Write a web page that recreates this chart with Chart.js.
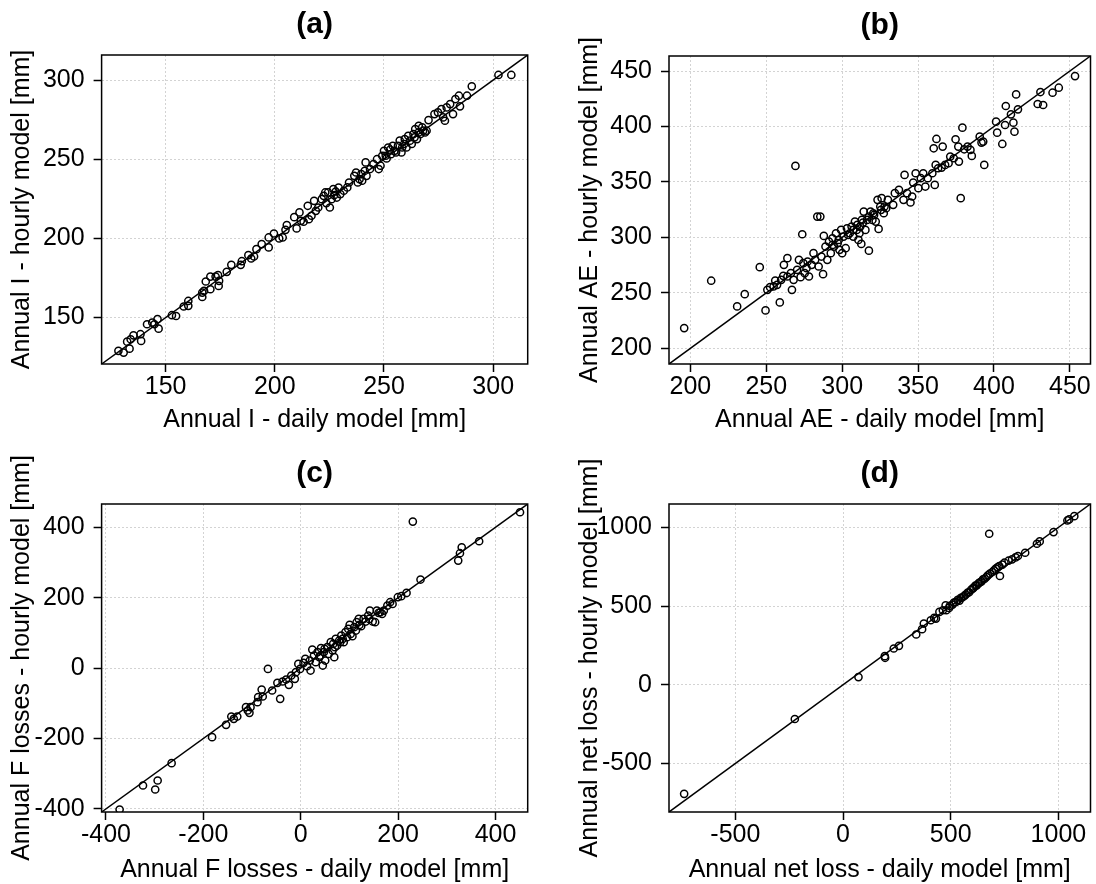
<!DOCTYPE html>
<html>
<head>
<meta charset="utf-8">
<script src="https://cdn.jsdelivr.net/npm/chart.js@4"></script>
<style>
body { margin: 0; background: #fff; }
.p { position: absolute; width: 548px; height: 442px; }
</style>
</head>
<body>
<div class="p" style="left:0;top:0"><canvas id="ca" width="548" height="442"></canvas></div>
<div class="p" style="left:548px;top:0"><canvas id="cb" width="548" height="442"></canvas></div>
<div class="p" style="left:0;top:442px"><canvas id="cc" width="548" height="442"></canvas></div>
<div class="p" style="left:548px;top:442px"><canvas id="cd" width="548" height="442"></canvas></div>
<script>
// (a) annual interception
const aDaily = [128.4,130.8,132.4,133.5,134.0,135.3,138.5,138.8,141.5,143.9,
  144.9,146.3,146.8,152.9,154.8,158.3,160.4,160.4,166.8,166.8,
  167.6,168.4,170.5,170.5,172.9,174.0,174.3,174.5,178.0,180.1,
  184.4,184.9,187.9,189.2,190.5,191.6,194.0,197.2,197.2,199.6,
  202.0,203.6,204.9,205.5,208.9,210.0,211.3,211.9,213.2,215.1,
  215.6,216.8,218.0,218.8,219.9,221.5,222.4,223.6,224.4,225.2,
  226.0,226.8,227.9,228.4,229.2,230.0,233.2,234.0,236.4,237.2,
  238.0,238.8,239.6,241.2,241.6,243.6,245.2,246.8,247.6,248.4,
  249.2,250.0,251.2,251.9,253.2,254.0,254.8,256.4,257.2,258.0,
  259.5,260.3,261.1,262.7,263.5,264.3,265.1,265.9,266.7,267.9,
  268.8,270.4,273.1,274.7,276.3,277.1,277.9,278.7,280.3,281.6,
  282.7,284.3,284.8,288.0,290.2,302.4,308.3,
  250.8,252.8,255.5,258.3,259.2,261.9,264.0,265.9,267.5,269.5,
  223.1,227.2,231.6,240.0,242.0];
const aHourly = [129.0,127.9,134.8,130.4,136.3,138.8,139.5,135.3,145.8,146.9,
  145.8,149.0,143.0,151.5,151.0,157.0,157.4,160.5,165.8,163.0,
  166.9,172.8,175.9,167.9,175.9,176.8,170.0,173.2,178.9,183.3,
  183.3,185.6,189.4,187.3,188.6,193.2,196.4,194.3,200.6,203.1,
  200.0,200.6,205.4,208.4,213.4,206.3,216.4,211.1,210.5,220.6,
  212.1,214.3,223.7,217.4,219.5,224.8,226.9,222.3,229.0,219.5,
  224.8,231.1,229.6,225.8,232.1,228.0,232.2,235.3,239.5,241.6,
  235.3,237.4,240.6,242.7,248.0,243.8,246.9,250.0,243.8,245.9,
  252.2,255.3,250.5,257.4,253.2,258.5,255.3,258.5,261.7,254.3,
  262.7,257.4,264.8,259.6,265.9,269.0,262.7,271.1,265.9,268.0,
  266.9,274.7,278.5,279.6,281.7,276.4,274.3,282.7,284.8,278.5,
  288.0,290.1,283.4,290.1,296.0,303.2,303.2,
  252.2,256.0,254.3,257.4,259.6,261.7,263.8,266.9,270.1,268.0,
  229.0,227.3,230.1,236.4,239.5];
const aTicks = [150, 200, 250, 300];
const aLim = [120.7, 315.8];

// (b) annual actual evaporation
const bDaily = [195.9,213.7,230.8,235.8,245.7,249.5,250.7,252.5,254.8,255.9,
  258.9,257.1,259.8,261.6,263.9,261.2,263.9,266.2,266.9,268.0,
  269.2,270.3,271.5,272.6,273.7,274.4,275.3,276.5,277.2,278.1,
  279.9,281.1,282.2,283.6,285.6,284.5,286.3,287.4,287.9,289.0,
  290.2,291.3,292.5,293.6,294.7,295.9,297.0,298.2,299.3,300.0,
  300.9,302.3,303.2,305.0,306.2,307.3,308.4,309.6,310.7,311.9,
  312.6,313.0,314.2,315.3,316.4,317.6,318.7,319.9,321.0,322.1,
  323.3,324.0,325.1,326.0,327.4,329.0,330.1,333.6,334.7,337.4,
  340.4,341.1,342.7,345.0,346.1,346.8,348.4,350.2,351.8,353.4,
  354.8,356.4,359.4,360.3,361.0,361.6,362.1,363.2,365.5,366.2,
  367.8,370.1,371.2,373.5,374.7,376.5,376.9,378.1,379.2,380.4,
  382.6,384.5,385.4,390.6,391.8,393.6,392.9,401.4,402.1,405.5,
  407.3,407.8,411.2,412.8,413.5,414.6,415.8,428.8,430.6,432.4,
  438.6,442.7,453.4,
  293.6,297.7,303.9,307.3,310.0,311.4,313.7,317.6,320.5,325.6,327.9];
const bHourly = [218.3,261.0,237.8,248.9,273.2,234.2,252.8,255.2,255.8,261.2,
  241.4,257.3,261.8,275.3,281.3,265.4,264.8,267.8,252.8,261.8,
  364.5,270.8,279.8,264.2,302.9,276.8,267.8,272.3,278.3,264.8,
  275.3,285.8,279.8,318.8,318.8,273.8,282.8,266.9,301.4,291.8,
  279.8,296.3,285.8,299.3,291.8,303.8,294.8,288.8,306.8,285.8,
  300.8,290.3,308.3,303.8,309.8,300.8,314.3,306.8,297.8,309.8,
  294.2,315.8,323.3,306.8,315.8,288.1,323.3,315.8,320.3,314.3,
  333.9,307.7,327.9,335.4,321.8,326.4,333.9,329.4,339.9,342.9,
  333.9,356.4,339.9,331.5,336.9,349.5,357.9,344.4,353.4,357.9,
  345.9,353.4,357.9,380.4,347.4,365.4,388.8,362.4,363.0,381.9,
  365.4,366.9,372.9,371.4,388.5,381.9,368.4,335.4,399.0,379.5,
  381.9,378.9,373.5,390.9,385.5,365.4,386.4,404.4,394.5,384.3,
  401.4,418.5,411.0,403.5,395.4,429.0,415.5,420.3,431.1,419.4,
  430.5,435.0,445.5,
  293.3,297.8,302.3,306.8,311.3,303.8,313.4,318.8,321.8,324.9,327.9];
const bTicks = [200, 250, 300, 350, 400, 450];
const bLim = [185.9, 463.6];

// (c) annual F losses
const cDaily = [-372.0,-324.0,-298.9,-293.9,-265.2,-182.1,-153.4,-142.6,-137.6,-130.4,
  -112.5,-108.9,-105.4,-103.2,-88.9,-87.5,-80.3,-78.1,-67.4,-58.8,
  -48.0,-42.3,-37.3,-30.1,-24.4,-19.4,-12.2,-10.0,-5.0,-1.4,
  5.7,9.3,12.9,18.6,20.1,23.7,27.2,30.8,34.4,38.0,
  41.6,45.2,47.3,50.2,54.5,57.3,61.6,65.2,68.8,71.7,
  74.6,78.9,83.2,88.2,91.8,97.5,100.4,106.1,109.7,114.7,
  119.0,124.0,129.0,133.3,138.4,141.9,147.7,152.7,156.3,163.4,
  170.6,177.8,183.5,188.5,199.3,206.5,217.2,230.1,245.9,323.3,
  326.9,330.5,366.3,450.2,40.2,48.9,66.6,70.2,81.0,86.0,
  95.3,102.5,113.3,120.4,140.5,159.9,167.0];
const cHourly = [-401.9,-333.7,-345.1,-319.5,-270.3,-196.4,-161.4,-137.8,-144.4,-137.8,
  -111.2,-120.7,-127.3,-111.2,-97.0,-82.8,-61.1,-80.9,-2.4,-63.9,
  -42.1,-87.6,-38.3,-32.7,-47.8,-21.3,-30.8,-11.8,11.8,-2.4,
  14.6,26.0,5.2,21.3,-7.1,52.5,35.5,16.6,45.0,30.8,
  56.4,7.1,45.0,21.3,59.2,40.2,73.4,49.7,30.8,82.8,
  63.9,78.1,92.3,73.4,101.8,111.2,122.6,90.4,116.0,130.2,
  139.6,118.8,139.6,132.1,149.1,163.3,132.1,130.2,163.3,158.6,
  163.3,177.5,187.0,182.2,201.2,204.0,213.5,416.1,251.4,305.3,
  326.2,343.2,360.2,442.6,35.5,54.4,68.6,59.2,73.4,82.8,
  87.5,97.0,106.5,122.6,139.6,156.7,153.8];
const cTicks = [-400, -200, 0, 200, 400];
const cLim = [-409, 466];

// (d) annual net loss
const dDaily = [-737.7,-223.8,71.7,193.8,195.4,235.5,259.6,339.9,367.2,375.2,
  407.3,423.4,431.4,447.5,463.5,476.4,479.6,492.5,495.6,508.5,
  514.9,524.6,532.6,540.6,547.1,555.1,563.1,569.6,579.2,585.6,
  593.7,601.7,606.5,614.5,621.0,629.0,635.4,643.4,649.9,657.9,
  665.9,672.3,678.7,682.0,693.2,701.3,709.3,717.3,725.3,728.5,
  739.8,749.4,768.6,784.7,800.8,812.0,845.7,900.3,913.2,977.4,
  1041.7,1049.7,1073.8];
const dHourly = [-692.4,-217.0,49.3,182.3,171.8,230.9,247.8,319.7,353.5,389.4,
  410.5,425.3,421.1,463.3,473.9,505.6,473.9,488.7,501.4,509.8,
  522.5,526.7,539.4,535.2,552.1,556.3,564.8,573.3,585.9,588.0,
  602.8,611.2,617.6,630.3,632.4,645.0,651.4,657.7,670.4,674.6,
  685.2,695.8,959.9,706.3,716.9,727.5,738.2,746.5,754.9,691.5,
  763.4,776.0,788.7,797.2,809.8,818.3,839.4,896.5,911.3,970.4,
  1044.4,1050.7,1071.8];
const dTicks = [-500, 0, 500, 1000];
const dLim = [-808, 1149];

Chart.defaults.font.family = '"Liberation Sans", Arial, sans-serif';
Chart.defaults.color = '#000';

// box round the plot region and the bold panel letter
const frame = {
  id: 'frame',
  afterDraw(chart, args, opts) {
    const a = chart.chartArea, c = chart.ctx;
    c.save();
    c.strokeStyle = '#000';
    c.lineWidth = 1.5;
    c.strokeRect(a.left, a.top, a.right - a.left, a.bottom - a.top);
    c.font = 'bold 30px "Liberation Sans", Arial, sans-serif';
    c.textAlign = 'center';
    c.textBaseline = 'middle';
    c.fillStyle = '#000';
    c.fillText(opts.text, (a.left + a.right) / 2, a.top - 30);
    c.restore();
  }
};

function makeAxis(lim, ticks, title, isY, box, titlePad) {
  return {
    type: 'linear',
    min: lim[0],
    max: lim[1],
    afterBuildTicks: s => { s.ticks = ticks.map(v => ({value: v})); },
    afterFit: s => {
      if (isY) s.width = box.left;
      else s.height = 442 - box.bottom;
      s.paddingLeft = s.paddingRight = s.paddingTop = s.paddingBottom = 0;
    },
    grid: {
      color: '#d3d3d3', lineWidth: 1,
      drawTicks: true, tickLength: 8, tickColor: '#000', tickWidth: 1.5, tickBorderDash: []
    },
    border: {display: false, dash: [2, 2]},
    ticks: {
      font: {size: 25, lineHeight: 1},
      padding: isY ? 9 : 3,
      autoSkip: false, maxRotation: 0,
      callback: v => String(v)
    },
    title: {
      display: true, text: title,
      font: {size: 25, lineHeight: 1},
      padding: isY ? {top: titlePad, bottom: 0} : {top: 0, bottom: titlePad}
    }
  };
}

function panel(id, tag, xs, ys, lim, ticks, xTitle, yTitle, box, yPad, xPad) {
  const pts = xs.map((x, i) => ({x: x, y: ys[i]}));
  new Chart(document.getElementById(id), {
    type: 'scatter',
    data: {
      datasets: [{
        data: pts,
        pointRadius: 3.6,
        pointBorderWidth: 1.5,
        pointBorderColor: '#000',
        pointBackgroundColor: 'rgba(0,0,0,0)'
      }, {
        type: 'line',
        data: [{x: lim[0], y: lim[0]}, {x: lim[1], y: lim[1]}],
        borderColor: '#000',
        borderWidth: 1.5,
        pointRadius: 0
      }]
    },
    options: {
      responsive: false,
      animation: false,
      events: [],
      layout: {padding: {left: 0, top: box.top, right: 548 - box.right, bottom: 0}},
      scales: {
        x: makeAxis(lim, ticks, xTitle, false, box, xPad),
        y: makeAxis(lim, ticks, yTitle, true, box, yPad)
      },
      plugins: {
        legend: {display: false},
        tooltip: {enabled: false},
        frame: {text: tag}
      }
    },
    plugins: [frame]
  });
}

panel('ca', '(a)', aDaily, aHourly, aLim, aTicks,
  'Annual I - daily model [mm]', 'Annual I - hourly model [mm]',
  {left: 101.6, top: 55, right: 527.7, bottom: 364}, 10, 9);
panel('cb', '(b)', bDaily, bHourly, bLim, bTicks,
  'Annual AE - daily model [mm]', 'Annual AE - hourly model [mm]',
  {left: 121, top: 56, right: 546.5, bottom: 364}, 30, 9);
panel('cc', '(c)', cDaily, cHourly, cLim, cTicks,
  'Annual F losses - daily model [mm]', 'Annual F losses - hourly model [mm]',
  {left: 101.6, top: 62, right: 527.7, bottom: 370}, 10, 1);
panel('cd', '(d)', dDaily, dHourly, dLim, dTicks,
  'Annual net loss - daily model [mm]', 'Annual net loss - hourly model [mm]',
  {left: 121, top: 62, right: 546.5, bottom: 370}, 30, 1);
</script>
</body>
</html>
